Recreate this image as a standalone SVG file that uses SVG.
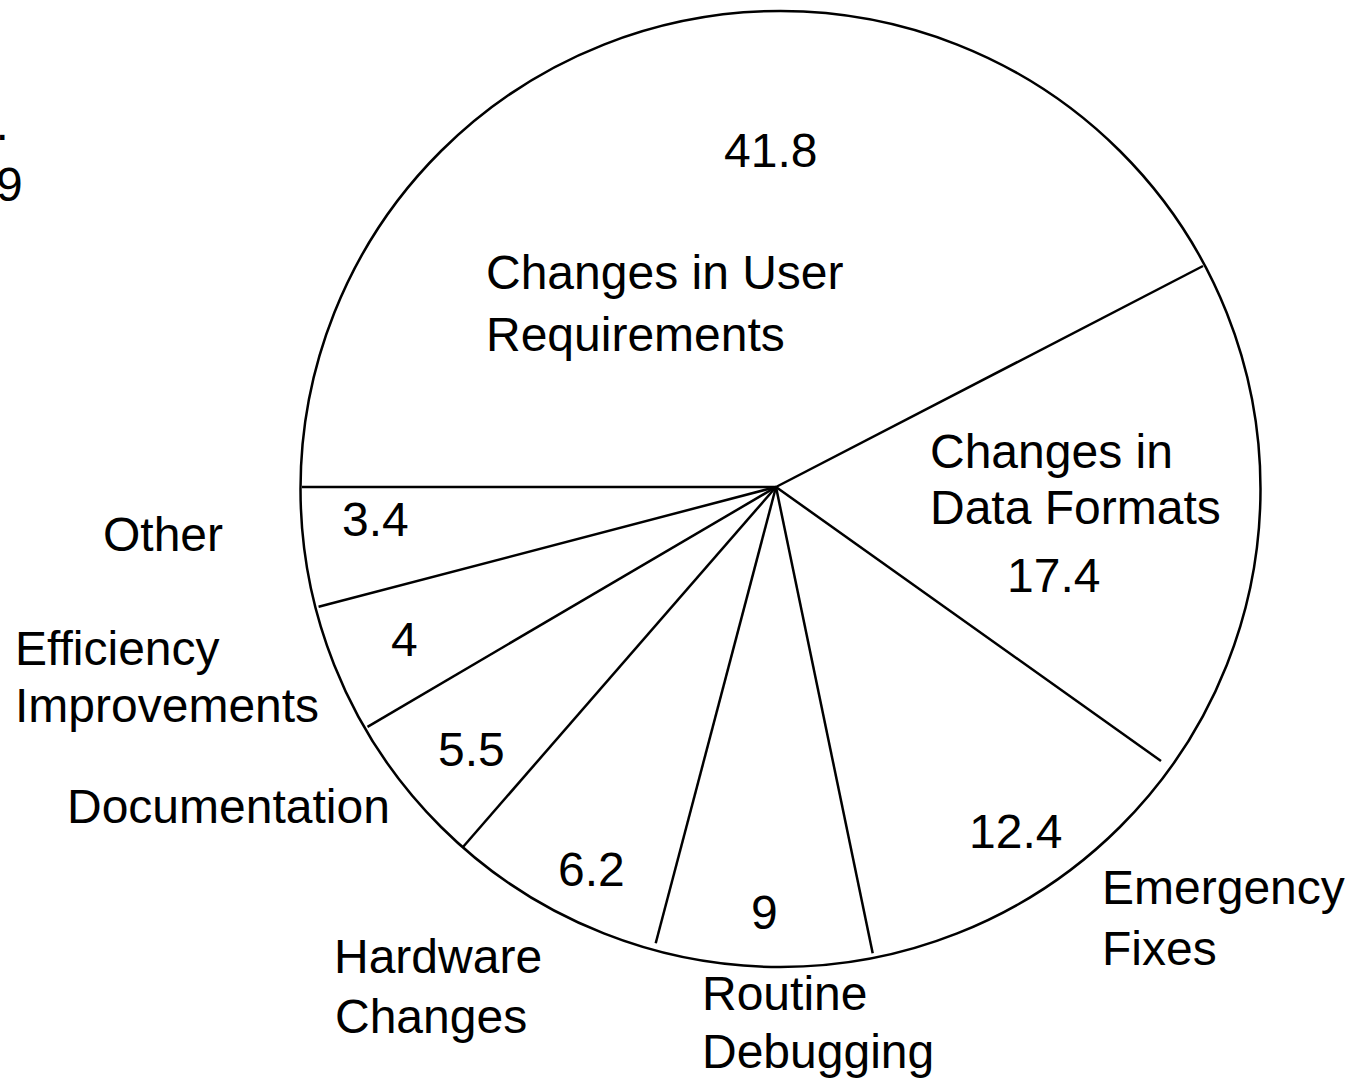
<svg xmlns="http://www.w3.org/2000/svg" width="1364" height="1080" viewBox="0 0 1364 1080">
<style>
  text { font-family: "Liberation Sans", Arial, sans-serif; font-size: 48px; fill: #000; }
  .ln { stroke: #000; stroke-width: 2.5; fill: none; stroke-linecap: butt; }
</style>
<rect x="0" y="0" width="1364" height="1080" fill="#fff"/>
<g id="pie">
  <ellipse class="ln" cx="780.5" cy="489" rx="480" ry="478"/>
</g>
<g id="connectors">
  <line class="ln" x1="776" y1="487" x2="302" y2="487"/>
  <line class="ln" x1="776" y1="487" x2="318.6" y2="606.8"/>
  <line class="ln" x1="776" y1="487" x2="367.5" y2="726.8"/>
  <line class="ln" x1="776" y1="487" x2="463" y2="847"/>
  <line class="ln" x1="776" y1="487" x2="655.7" y2="943.3"/>
  <line class="ln" x1="776" y1="487" x2="872.7" y2="953.3"/>
  <line class="ln" x1="776" y1="487" x2="1161" y2="761"/>
  <line class="ln" x1="776" y1="487" x2="1203" y2="266"/>
</g>
<g id="partial-caption">
  <text x="-4.5" y="139.5">.</text>
  <text x="-4" y="201">9</text>
</g>
<g id="node-user-requirements">
  <text x="724" y="167">41.8</text>
  <text x="486" y="289">Changes in User</text>
  <text x="486" y="351">Requirements</text>
</g>
<g id="node-data-formats">
  <text x="930" y="468">Changes in</text>
  <text x="930" y="524">Data Formats</text>
  <text x="1007" y="592">17.4</text>
</g>
<g id="node-emergency-fixes">
  <text x="969" y="848">12.4</text>
  <text x="1102" y="904">Emergency</text>
  <text x="1102" y="965">Fixes</text>
</g>
<g id="node-routine-debugging">
  <text x="751" y="929">9</text>
  <text x="702" y="1010">Routine</text>
  <text x="702" y="1068">Debugging</text>
</g>
<g id="node-hardware-changes">
  <text x="558" y="886">6.2</text>
  <text x="334" y="973">Hardware</text>
  <text x="335" y="1033">Changes</text>
</g>
<g id="node-documentation">
  <text x="438" y="766">5.5</text>
  <text x="67" y="823">Documentation</text>
</g>
<g id="node-efficiency">
  <text x="391" y="656">4</text>
  <text x="15" y="665">Efficiency</text>
  <text x="15" y="722">Improvements</text>
</g>
<g id="node-other">
  <text x="342" y="536">3.4</text>
  <text x="103" y="551">Other</text>
</g>
</svg>
